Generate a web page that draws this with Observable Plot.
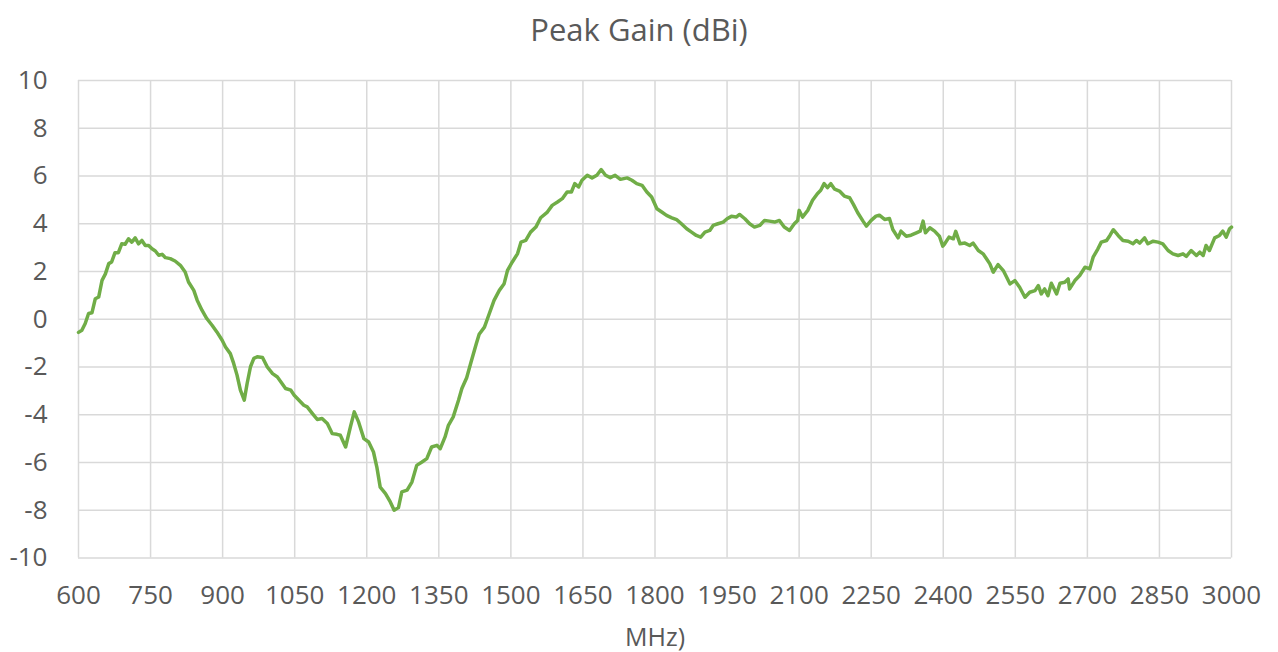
<!DOCTYPE html>
<html>
<head>
<meta charset="utf-8">
<script src="https://cdn.jsdelivr.net/npm/d3@7"></script>
<script src="https://cdn.jsdelivr.net/npm/@observablehq/plot@0.6"></script>
<style>
  body { margin: 0; background: #fff; width: 1278px; height: 652px; overflow: hidden; }
  #title { height: 60px; line-height: 58px; text-align: center; font-family: "Open Sans", sans-serif; font-size: 31px; color: #595959; }
</style>
</head>
<body>
<div id="title">Peak Gain (dBi)</div>
<div id="chart"></div>
<script>
const freq = [600,607,614,621,628,635,642,649,656,663,669,676,683,690,697,704,711,718,725,732,739,746,753,760,767,774,781,791,801,812,822,829,840,847,857,867,878,888,899,906,916,923,930,937,945,951,958,965,972,983,993,1004,1014,1024,1031,1042,1049,1059,1069,1076,1087,1097,1107,1118,1128,1138,1145,1156,1166,1174,1183,1194,1204,1214,1221,1228,1239,1249,1257,1266,1273,1284,1294,1304,1315,1325,1335,1346,1353,1363,1370,1380,1391,1398,1408,1417,1428,1434,1445,1455,1465,1476,1486,1493,1503,1514,1521,1531,1541,1552,1562,1576,1586,1597,1607,1617,1626,1633,1641,1648,1659,1669,1679,1688,1697,1707,1717,1728,1742,1752,1762,1773,1783,1793,1804,1814,1824,1835,1845,1855,1866,1876,1886,1895,1904,1914,1921,1931,1942,1950,1959,1969,1976,1987,1997,2007,2018,2028,2038,2049,2059,2069,2080,2090,2097,2100,2107,2118,2128,2138,2145,2152,2159,2166,2174,2184,2194,2205,2213,2222,2233,2240,2250,2260,2267,2278,2288,2295,2306,2312,2323,2333,2344,2352,2358,2363,2372,2382,2392,2399,2403,2412,2421,2426,2435,2445,2455,2462,2473,2483,2490,2497,2504,2514,2525,2532,2539,2549,2559,2570,2580,2591,2598,2604,2611,2618,2625,2636,2643,2653,2660,2663,2674,2684,2695,2705,2712,2722,2729,2740,2747,2754,2764,2774,2785,2795,2802,2809,2819,2826,2837,2847,2857,2868,2878,2889,2899,2906,2916,2927,2934,2941,2947,2954,2965,2975,2982,2989,2996,3000];
const gain = [-0.55,-0.46,-0.18,0.24,0.27,0.86,0.93,1.63,1.9,2.33,2.4,2.79,2.79,3.16,3.14,3.37,3.23,3.41,3.16,3.3,3.09,3.09,2.95,2.86,2.68,2.72,2.58,2.54,2.44,2.26,1.98,1.56,1.21,0.8,0.38,0.03,-0.25,-0.53,-0.88,-1.16,-1.44,-1.85,-2.34,-2.97,-3.39,-2.69,-1.99,-1.64,-1.57,-1.6,-2.0,-2.28,-2.42,-2.7,-2.9,-2.97,-3.18,-3.39,-3.6,-3.67,-3.95,-4.2,-4.16,-4.37,-4.79,-4.82,-4.86,-5.35,-4.51,-3.88,-4.3,-5.0,-5.14,-5.56,-6.19,-7.03,-7.3,-7.65,-8.0,-7.89,-7.23,-7.16,-6.82,-6.12,-5.98,-5.84,-5.35,-5.28,-5.42,-4.93,-4.44,-4.09,-3.39,-2.9,-2.45,-1.8,-1.03,-0.63,-0.33,0.23,0.79,1.21,1.49,2.05,2.4,2.75,3.23,3.3,3.65,3.86,4.25,4.49,4.77,4.91,5.05,5.33,5.33,5.68,5.54,5.82,6.03,5.92,6.03,6.27,6.03,5.93,6.03,5.86,5.92,5.82,5.68,5.61,5.33,5.12,4.63,4.49,4.35,4.25,4.17,4.0,3.79,3.65,3.51,3.44,3.65,3.72,3.93,4.0,4.07,4.21,4.31,4.28,4.39,4.21,4.0,3.86,3.93,4.14,4.11,4.07,4.14,3.86,3.72,4.0,4.14,4.56,4.28,4.56,4.98,5.26,5.4,5.68,5.51,5.68,5.45,5.37,5.16,5.09,4.81,4.46,4.11,3.9,4.14,4.32,4.36,4.18,4.22,3.76,3.41,3.69,3.48,3.52,3.62,3.69,4.11,3.62,3.83,3.69,3.48,3.06,3.16,3.44,3.37,3.68,3.16,3.19,3.09,3.19,2.88,2.74,2.53,2.32,1.97,2.29,2.04,1.76,1.48,1.62,1.34,0.92,1.13,1.2,1.41,1.06,1.27,0.99,1.51,1.06,1.51,1.55,1.69,1.27,1.62,1.83,2.18,2.11,2.6,2.95,3.23,3.3,3.51,3.75,3.51,3.3,3.27,3.16,3.3,3.19,3.41,3.16,3.27,3.23,3.16,2.88,2.74,2.67,2.74,2.63,2.88,2.67,2.81,2.67,3.09,2.88,3.41,3.51,3.69,3.44,3.79,3.86];
const xTicks = [600,750,900,1050,1200,1350,1500,1650,1800,1950,2100,2250,2400,2550,2700,2850,3000];
const yTicks = [-10,-8,-6,-4,-2,0,2,4,6,8,10];
const xLabel = "MHz)";

const data = freq.map((f, i) => ({f, g: gain[i]}));
const grid = "#d9d9d9";
const txt = "#595959";

const chart = Plot.plot({
  width: 1278,
  height: 592,
  marginTop: 20,
  marginLeft: 78,
  marginRight: 47,
  marginBottom: 94.5,
  style: {fontFamily: "'Open Sans', sans-serif", fontSize: "26px", color: txt, background: "#fff"},
  x: {domain: [600, 3000], ticks: xTicks},
  y: {domain: [-10, 10], ticks: yTicks},
  marks: [
    Plot.gridX(xTicks, {stroke: grid, strokeOpacity: 1, strokeWidth: 1.5}),
    Plot.gridY(yTicks, {stroke: grid, strokeOpacity: 1, strokeWidth: 1.5}),
    Plot.axisX(xTicks, {tickSize: 0, tickPadding: 28, label: null, tickFormat: d => String(d), fill: txt, fontSize: 26}),
    Plot.axisY(yTicks, {tickSize: 0, tickPadding: 31, label: null, tickFormat: d => String(d), fill: txt, fontSize: 26}),
    Plot.line(data, {x: "f", y: "g", stroke: "#70AD47", strokeWidth: 3.5, curve: "linear"}),
    Plot.text([xLabel], {frameAnchor: "bottom", lineAnchor: "middle", dy: 80, text: d => d, fill: txt, fontSize: 25})
  ]
});
document.getElementById("chart").appendChild(chart);
</script>
</body>
</html>
